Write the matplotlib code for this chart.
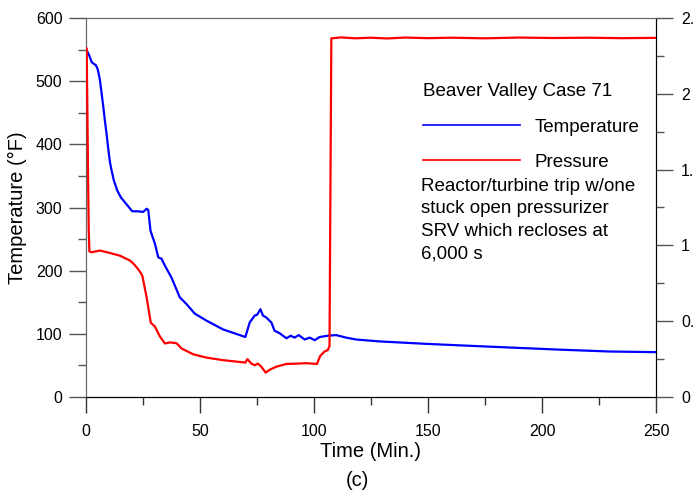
import numpy as np
import matplotlib
matplotlib.use('Agg')
import matplotlib.pyplot as plt
from matplotlib.ticker import MultipleLocator
from matplotlib.lines import Line2D

plt.rcParams['font.family'] = ['Liberation Sans', 'DejaVu Sans']

# temperature (deg F) vs time (min)
temp_t = [0.3, 1.5, 2.5, 4.4, 5.2, 6.1, 6.8, 7.6, 8.3, 9.0, 9.8, 10.5, 11.2, 12.2,
          13.7, 15.3, 17.1, 18.7, 20.3, 22.5, 25.1, 26.6, 27.3,
          28.3, 30.2, 31.7, 33.1, 34.6, 37.5, 41.1, 44.1, 47.7, 52.8, 60.1, 69.9,
          71.8, 74.0, 75.0, 76.5, 77.6, 79.0, 81.3, 82.7, 84.9, 87.9, 89.8, 91.5,
          93.3, 95.9, 98.1, 100.3, 102.5, 106.1, 109.7, 114.1, 118.5, 128.7, 150,
          175, 207.5, 230, 250]
temp_v = [549, 540, 530, 525, 518, 502, 482, 459, 437, 417, 392, 372, 359, 343,
          327, 316, 308, 301, 294, 294, 293, 298, 296,
          263, 243, 221, 219, 208, 189, 158, 147, 132, 121, 107, 95,
          118, 129, 130, 139, 129, 126, 118, 105, 101, 93, 97, 94,
          98, 91, 94, 90, 95, 97, 98, 94, 91, 88, 84,
          80, 75, 72, 71]

# pressure (ksi) vs time (min)
pres_t = [0.0, 0.3, 0.6, 0.9, 1.2, 1.5, 2.5, 6.1, 10.5, 14.9, 19.3, 20.8, 22.2, 23.5,
          24.7, 25.5, 26.6, 28.4, 30.2, 32.4, 34.6, 36.8, 39.7, 41.9, 47.0, 52.8,
          60.1, 69.9, 70.8, 72.5, 74.0, 75.4, 76.9, 78.8, 80.6, 83.5, 87.9, 92.2,
          96.6, 101.3, 102.7, 104.6, 106.1, 106.8, 107.6, 112, 118, 125, 132, 140,
          150, 160, 175, 190, 205, 220, 235, 250]
pres_v = [2.30, 2.30, 1.90, 1.45, 1.10, 0.96, 0.955, 0.966, 0.95, 0.932, 0.90, 0.88,
          0.855, 0.83, 0.80, 0.74, 0.657, 0.49, 0.465, 0.40, 0.353, 0.36, 0.355, 0.32,
          0.282, 0.26, 0.243, 0.227, 0.25, 0.22, 0.21, 0.22, 0.20, 0.161, 0.18, 0.20,
          0.218, 0.22, 0.223, 0.218, 0.27, 0.30, 0.31, 0.337, 2.366, 2.372, 2.366,
          2.370, 2.365, 2.371, 2.367, 2.370, 2.366, 2.371, 2.368, 2.370, 2.367, 2.369]

temp_ticks = [0, 100, 200, 300, 400, 500, 600]
pres_ticks = [0, 0.5, 1, 1.5, 2, 2.5]
pres_labels = ['0', '0.5', '1', '1.5', '2', '2.5']
time_ticks = [0, 50, 100, 150, 200, 250]

note = 'Reactor/turbine trip w/one\nstuck open pressurizer\nSRV which recloses at\n6,000 s'

fig = plt.figure(figsize=(6.93, 4.97), dpi=100)
ax = fig.add_axes([86/693, 1-397/497, 570/693, 379/497])
ax2 = ax.twinx()

ax.plot(temp_t, temp_v, color='#0000ff', lw=1.6, zorder=3)
ax2.plot(pres_t, pres_v, color='#ff0000', lw=1.6, zorder=3)

ax.set_xlim(0, 250)
ax.set_ylim(0, 600)
ax2.set_ylim(0, 2.5)
ax.set_xticks(time_ticks)
ax.set_yticks(temp_ticks)
ax2.set_yticks(pres_ticks)
ax2.set_yticklabels(pres_labels)
ax.xaxis.set_minor_locator(MultipleLocator(25))
ax.yaxis.set_minor_locator(MultipleLocator(50))
ax2.yaxis.set_minor_locator(MultipleLocator(0.25))

ax.tick_params(axis='x', which='major', length=11.5, width=1, color='#333333',
               labelsize=11.5, pad=8)
ax.tick_params(axis='x', which='minor', length=6, width=1, color='#333333')
ax.tick_params(axis='y', which='major', length=12, width=1, color='#555555',
               labelsize=11.5, pad=5)
ax.tick_params(axis='y', which='minor', length=6, width=1, color='#555555')
ax2.tick_params(axis='y', which='major', length=12, width=1, color='#555555',
                labelsize=11.5, pad=6)
ax2.tick_params(axis='y', which='minor', length=6, width=1, color='#555555')

for a in (ax, ax2):
    a.spines['left'].set_color('#666666')
    a.spines['top'].set_color('#666666')
    a.spines['right'].set_color('black')
    a.spines['bottom'].set_color('black')

ax.set_xlabel('Time (Min.)', fontsize=14.5, labelpad=2)
ax.set_ylabel('Temperature (°F)', fontsize=14.5, labelpad=6)
fig.text(357/693, 1-480/497, '(c)', fontsize=14.5, ha='center', va='center')

ax.text(0.591, 0.805, 'Beaver Valley Case 71', transform=ax.transAxes,
        fontsize=13.5, ha='left', va='center')
handles = [Line2D([], [], color='#0000ff', lw=1.2),
           Line2D([], [], color='#ff0000', lw=1.2)]
ax.legend(handles, ['Temperature', 'Pressure'], loc='center left',
          bbox_to_anchor=(0.591, 0.665), frameon=False, fontsize=13.5,
          handlelength=5.2, handletextpad=0.75, labelspacing=0.95,
          borderpad=0, borderaxespad=0)
ax.text(0.588, 0.578, note, transform=ax.transAxes, fontsize=13.5,
        ha='left', va='top', linespacing=1.42)

fig.savefig('out.png', dpi=100)
